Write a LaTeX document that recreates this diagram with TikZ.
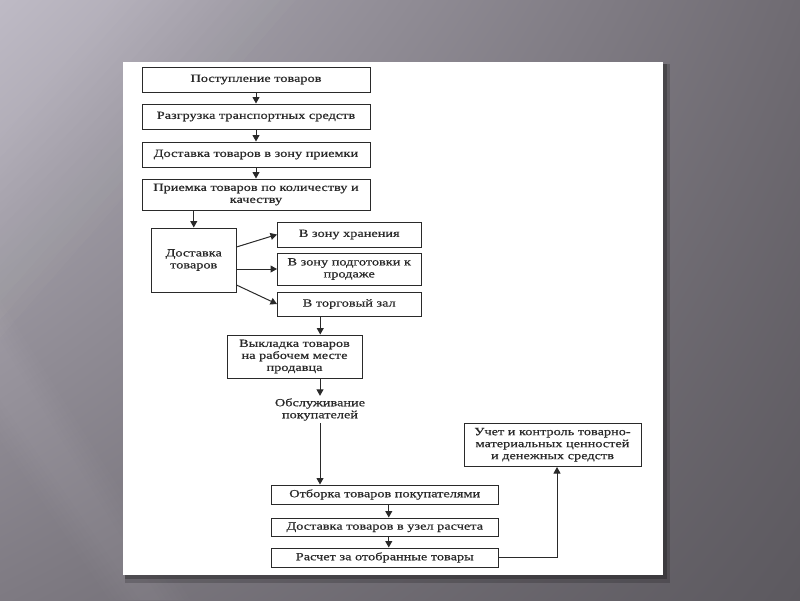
\documentclass[tikz,border=0pt]{standalone}
\usepackage{fontspec}
\setmainfont[FakeStretch=1.3,FakeBold=0.6]{Liberation Serif}
\usetikzlibrary{arrows.meta,calc,shadings}
\definecolor{bgtl}{HTML}{B2AEB9}
\definecolor{bgtr}{HTML}{6F6B72}
\definecolor{bgbl}{HTML}{7E7A82}
\definecolor{bgbr}{HTML}{5C595F}
\definecolor{ink}{HTML}{2A2A2A}
\tikzset{
  box/.style={draw=ink, line width=1pt, rectangle, inner sep=0pt, align=center,
    font=\fontsize{11}{12}\selectfont, text=ink, fill=white},
  plain/.style={inner sep=0pt, align=center, font=\fontsize{11}{12}\selectfont, text=ink},
  arr/.style={draw=ink, line width=1pt, -{Triangle[length=6.5pt,width=7pt]}}
}
\begin{document}
\begin{tikzpicture}[x=1pt,y=-1pt]
\useasboundingbox (0,0) rectangle (800,600);
% background
\shade[upper left=bgtl, upper right=bgtr, lower left=bgbl, lower right=bgbr] (0,0) rectangle (800,600);
\foreach \i in {0,...,11} {
  \fill[white, opacity=0.018] (0,0) -- ({120+16*\i},0) -- (0,{140+18*\i}) -- cycle;
}
\foreach \i in {0,...,5} {
  \fill[white, opacity=0.012] (0,{300+8*\i}) -- ({190-6*\i},600) -- ({110+6*\i},600) -- (0,{440-8*\i}) -- cycle;
}
% panel shadow and panel
\fill[black, opacity=0.18] (125,64) rectangle (670,583);
\fill[black, opacity=0.25] (125,64) rectangle (667,579);
\fill[white] (123,62) rectangle (663,575);
% nodes
\node[box, minimum width=228, minimum height=25] (b1) at (256,79.5) {Поступление товаров};
\node[box, minimum width=228, minimum height=25] (b2) at (256,116.5) {Разгрузка транспортных средств};
\node[box, minimum width=228, minimum height=25] (b3) at (256,154.5) {Доставка товаров в зону приемки};
\node[box, minimum width=228, minimum height=31] (b4) at (256,194.5) {Приемка товаров по количеству и\\качеству};
\node[box, minimum width=84.5, minimum height=64] (d) at (193.75,260) {Доставка\\товаров};
\node[box, minimum width=143.5, minimum height=25] (z1) at (349.25,234.5) {В зону хранения};
\node[box, minimum width=143.5, minimum height=32] (z2) at (349.25,269) {В зону подготовки к\\продаже};
\node[box, minimum width=143.5, minimum height=24] (z3) at (349.25,304) {В торговый зал};
\node[box, minimum width=135, minimum height=43] (v) at (294.5,356.5) {Выкладка товаров\\на рабочем месте\\продавца};
\node[plain, minimum height=27] (o) at (320,409.5) {Обслуживание\\покупателей};
\node[box, minimum width=227.5, minimum height=19] (otb) at (384.75,494.5) {Отборка товаров покупателями};
\node[box, minimum width=227.5, minimum height=18.5] (du) at (384.75,527.25) {Доставка товаров в узел расчета};
\node[box, minimum width=227.5, minimum height=19] (r) at (384.75,557.5) {Расчет за отобранные товары};
\node[box, minimum width=177, minimum height=43.5] (u) at (552.5,444.75) {Учет и контроль товарно-\\материальных ценностей\\и денежных средств};
% connectors
\draw[arr] (b1) -- (b2);
\draw[arr] (b2) -- (b3);
\draw[arr] (b3) -- (b4);
\draw[arr] (b4.south -| d.north) -- (d.north);
\draw[arr] ($(d.east)+(0,-13)$) -- (z1.west);
\draw[arr] (d.east |- z2.west) -- (z2.west);
\draw[arr] ($(d.east)+(0,25)$) -- (z3.west);
\coordinate (c1) at ($(z3.south)+(-29,0)$);
\draw[arr] (c1) -- (c1 |- v.north);
\draw[arr] (v.south -| o.north) -- (o.north);
\draw[arr] (o.south) -- (o.south |- otb.north);
\coordinate (c2) at ($(otb.south)+(4,0)$);
\draw[arr] (c2) -- (c2 |- du.north);
\coordinate (c3) at ($(du.south)+(4,0)$);
\draw[arr] (c3) -- (c3 |- r.north);
\coordinate (c4) at ($(u.south)+(4.5,0)$);
\draw[arr] (r.east) -| (c4);
\end{tikzpicture}
\end{document}
